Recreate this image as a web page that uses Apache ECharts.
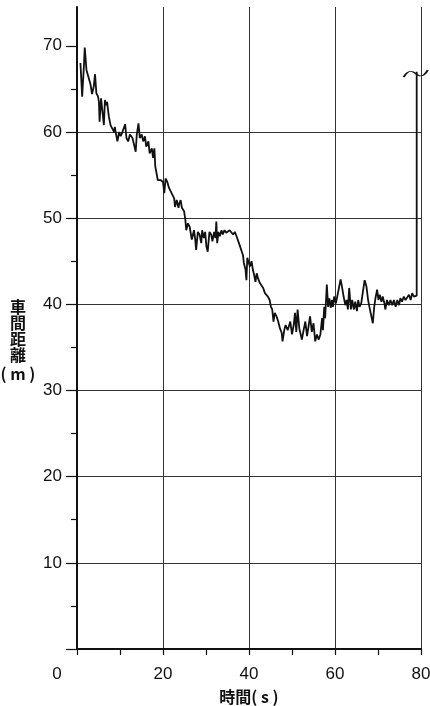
<!DOCTYPE html>
<html>
<head>
<meta charset="utf-8">
<script src="https://cdn.jsdelivr.net/npm/echarts@6/dist/echarts.min.js"></script>
<style>
  html, body { margin: 0; padding: 0; background: #fff; }
  #chart { width: 430px; height: 706px; }
</style>
</head>
<body>
<div id="chart"></div>
<script>
// Elapsed time (s)
const timeSec = [
  0.8, 1.2, 1.6, 1.8, 2.2, 2.6, 3.15, 3.5, 3.9, 4.2, 4.5, 4.9, 5.1, 5.25, 5.6, 5.9, 6.25, 6.5, 6.8, 7.0,
  7.4, 7.8, 8.2, 8.6, 8.8, 9.1, 9.4, 9.8, 10.15, 10.5, 10.9, 11.2, 11.5, 11.9, 12.3, 12.9, 13.3, 13.65, 13.9, 14.3,
  14.6, 15.05, 15.4, 15.8, 16.1, 16.6, 16.9, 17.4, 17.7, 18.0, 18.2, 18.5, 18.8, 19.5, 20.0, 20.3, 20.6, 21.0, 21.4, 21.8,
  22.2, 22.6, 22.8, 23.2, 23.6, 23.8, 24.1, 24.4, 24.9, 25.2, 25.4, 25.8, 26.2, 26.5, 26.7, 27.2, 27.5, 27.7, 28.1, 28.5,
  28.9, 29.1, 29.5, 29.8, 30.1, 30.4, 30.8, 31.2, 31.5, 31.9, 32.2, 32.4, 32.6, 32.9, 33.2, 33.6, 33.9, 34.3, 34.7, 35.1,
  35.5, 35.9, 36.3, 36.7, 37.1, 37.4, 37.8, 38.2, 38.6, 38.8, 39.2, 39.4, 39.6, 39.9, 40.2, 40.6, 40.9, 41.2, 41.5, 41.8,
  42.1, 42.5, 42.9, 43.3, 43.7, 44.1, 44.4, 44.8, 45.1, 45.4, 45.7, 46.0, 46.4, 46.8, 47.2, 47.6, 47.8, 48.2, 48.5, 49.0,
  49.6, 50.0, 50.4, 50.7, 51.0, 51.3, 51.7, 52.1, 52.3, 52.7, 53.1, 53.5, 53.9, 54.2, 54.6, 55.0, 55.4, 55.8, 56.2, 56.6,
  57.0, 57.2, 57.5, 57.7, 58.1, 58.4, 58.7, 59.0, 59.3, 59.5, 59.8, 60.2, 60.6, 61.0, 61.3, 61.6, 62.0, 62.4, 62.7, 63.0,
  63.3, 63.7, 64.0, 64.4, 64.7, 65.1, 65.4, 65.7, 66.1, 66.5, 66.9, 67.3, 67.7, 68.0, 68.4, 68.8, 69.1, 69.4, 69.8, 70.1,
  70.4, 70.8, 71.1, 71.5, 71.7, 72.1, 72.5, 72.9, 73.3, 73.7, 74.1, 74.5, 74.9, 75.2, 75.6, 76.0, 76.4, 76.8, 77.2, 77.6,
  77.95, 78.35, 78.6, 79.0, 79.0
];

// Headway distance (m)
const gapMeters = [
  68.0, 64.1, 67.6, 69.8, 67.2, 67.0, 65.5, 64.4, 65.3, 66.7, 64.5, 64.1, 63.5, 61.2, 63.9, 63.7, 60.8, 63.7, 63.1, 63.5,
  61.8, 60.8, 60.6, 60.0, 60.6, 59.7, 58.9, 60.0, 59.5, 59.9, 59.7, 60.9, 59.3, 58.9, 59.7, 59.3, 59.5, 57.7, 59.7, 61.0,
  59.3, 59.7, 58.9, 59.5, 58.3, 58.9, 57.5, 58.1, 57.0, 58.1, 56.0, 55.8, 54.4, 54.4, 54.2, 52.9, 54.6, 54.2, 53.5, 53.5,
  52.7, 52.3, 51.3, 52.1, 51.2, 51.7, 52.1, 51.2, 50.8, 49.8, 48.6, 49.4, 49.0, 49.0, 47.5, 48.6, 47.5, 46.3, 48.4, 48.1,
  47.1, 48.6, 47.7, 48.4, 46.7, 46.1, 48.4, 48.1, 47.3, 48.4, 47.7, 49.6, 47.1, 48.4, 47.9, 48.6, 48.1, 48.6, 48.3, 48.4,
  48.6, 48.4, 48.1, 48.4, 47.9, 48.1, 46.9, 46.7, 45.7, 44.8, 44.0, 42.8, 45.4, 45.5, 44.4, 45.0, 44.0, 43.4, 42.6, 43.6,
  43.0, 42.5, 42.3, 41.9, 41.3, 41.5, 40.9, 40.5, 39.7, 39.4, 38.0, 39.0, 38.6, 38.0, 37.2, 36.7, 35.7, 37.0, 37.6, 37.0,
  38.0, 36.5, 37.6, 39.0, 36.8, 39.4, 37.2, 37.4, 35.9, 37.0, 38.0, 36.3, 37.6, 38.6, 36.8, 37.8, 35.7, 36.5, 35.9, 36.5,
  38.4, 37.0, 39.7, 38.4, 42.3, 39.7, 40.7, 39.6, 40.5, 39.7, 40.9, 40.1, 41.1, 40.9, 42.9, 42.1, 40.9, 39.9, 40.5, 39.4,
  41.9, 39.4, 40.5, 39.4, 40.3, 39.2, 40.5, 39.7, 40.1, 41.5, 42.8, 42.1, 40.5, 39.7, 39.6, 37.8, 39.6, 40.7, 41.7, 40.5,
  41.1, 40.3, 40.9, 40.1, 39.4, 40.5, 39.9, 40.5, 39.9, 40.5, 39.7, 40.5, 39.9, 40.7, 40.3, 40.9, 40.5, 40.7, 41.1, 40.5,
  41.3, 40.9, 40.7, 41.0, 67.0
];

// Axis ticks and labels
const yMajorTicks = [0, 10, 20, 30, 40, 50, 60, 70];
const yLabelValues = [10, 20, 30, 40, 50, 60, 70];
const yMinorTicks = [5, 15, 25, 35, 45, 55, 65];
const xTickStep = 20;
const xMax = 80;
const yMax = 74.5;

// Wavy break mark at the top of the final jump
const breakMark = [79, 67];

const FONT_NUM = '"Liberation Sans Narrow", "Liberation Sans", Arial, sans-serif';
const FONT_JP = '"Noto Sans CJK JP", "Noto Sans", sans-serif';
const INK = '#111';

const jpText = { fontFamily: FONT_JP, fontSize: 16, fontWeight: 'bold', color: INK, align: 'center' };

const chart = echarts.init(document.getElementById('chart'), null, { renderer: 'canvas' });

chart.setOption({
  animation: false,
  backgroundColor: '#fff',
  grid: { left: 77, right: 9, top: 7, bottom: 57, containLabel: false, outerBoundsMode: 'none' },
  xAxis: {
    type: 'value',
    min: 0,
    max: xMax,
    interval: xTickStep,
    name: '時間( s )',
    nameLocation: 'middle',
    nameGap: 40,
    nameTextStyle: { fontFamily: FONT_JP, fontSize: 16, fontWeight: 'bold', color: INK },
    axisLine: { show: true, lineStyle: { color: INK, width: 2 } },
    axisTick: { show: true, inside: false, length: 6, lineStyle: { color: INK, width: 1.2 } },
    minorTick: { show: true, splitNumber: 2, length: 6, lineStyle: { color: INK, width: 1.2 } },
    axisLabel: {
      margin: 17,
      fontSize: 17,
      fontFamily: FONT_NUM,
      color: INK,
      formatter: v => (v === 0 ? '{o|0}' : String(v)),
      rich: { o: { fontSize: 17, fontFamily: FONT_NUM, color: INK, padding: [0, 40, 0, 0] } }
    },
    splitLine: { show: true, lineStyle: { color: '#333', width: 1 } },
    minorSplitLine: { show: false }
  },
  yAxis: [
    {
      type: 'value',
      position: 'left',
      min: 0,
      max: yMax,
      interval: 10,
      name: '{s| }\n{c|車}\n{c|間}\n{c|距}\n{c|離}\n{m|( m )}',
      nameLocation: 'middle',
      nameRotate: 0,
      nameGap: 59,
      nameTextStyle: {
        fontFamily: FONT_JP, fontSize: 16, fontWeight: 'bold', color: INK,
        align: 'center', verticalAlign: 'middle',
        rich: {
          s: Object.assign({}, jpText, { lineHeight: 28 }),
          c: Object.assign({}, jpText, { lineHeight: 16 }),
          m: Object.assign({}, jpText, { lineHeight: 22 })
        }
      },
      axisLine: { show: true, lineStyle: { color: INK, width: 2 } },
      axisTick: { show: true, inside: false, length: 11, customValues: yMajorTicks, lineStyle: { color: INK, width: 1.2 } },
      axisLabel: { margin: 15, fontSize: 17, fontFamily: FONT_NUM, color: INK, customValues: yLabelValues },
      splitLine: { show: true, showMinLine: false, showMaxLine: false, lineStyle: { color: '#333', width: 1 } }
    },
    {
      type: 'value',
      position: 'left',
      min: 0,
      max: yMax,
      interval: 5,
      axisLine: { show: false },
      axisLabel: { show: false },
      splitLine: { show: false },
      axisTick: { show: true, inside: false, length: 6, customValues: yMinorTicks, lineStyle: { color: INK, width: 1.2 } }
    }
  ],
  series: [
    {
      type: 'line',
      xAxisIndex: 0,
      yAxisIndex: 0,
      data: timeSec.map((t, i) => [t, gapMeters[i]]),
      showSymbol: false,
      symbol: 'none',
      lineStyle: { color: INK, width: 1.8 },
      clip: false,
      markPoint: {
        silent: true,
        data: [{
          coord: breakMark,
          symbol: 'path://M0,7 C4,1 8,1 12,4 C16,7 20,7 24,1',
          symbolSize: [24, 7],
          symbolOffset: [-1, 2],
          itemStyle: { color: 'none', borderColor: INK, borderWidth: 1.2 },
          label: { show: false }
        }]
      }
    }
  ]
});
</script>
</body>
</html>
